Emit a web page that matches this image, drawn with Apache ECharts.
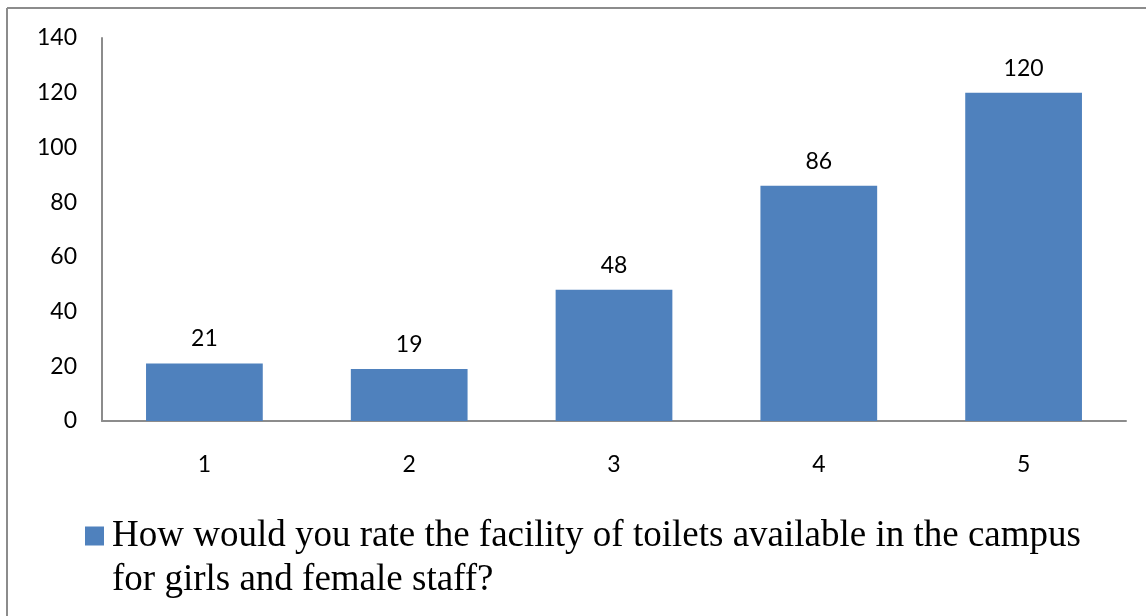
<!DOCTYPE html>
<html>
<head>
<meta charset="utf-8">
<script src="https://cdn.jsdelivr.net/npm/echarts@6/dist/echarts.min.js"></script>
<style>
  html, body { margin: 0; padding: 0; background: #fff; }
  #chart { width: 1146px; height: 616px; }
</style>
</head>
<body>
<div id="chart"></div>
<script>
// data
const categories = ['1', '2', '3', '4', '5'];
const values = [21, 19, 48, 86, 120];
const seriesName = 'How would you rate the facility of toilets available in the campus for girls and female staff?';
const legendLines = ['How would you rate the facility of toilets available in the campus', 'for girls and female staff?'];
const yTicks = { min: 0, max: 140, interval: 20 };

const chart = echarts.init(document.getElementById('chart'));

const labelFont = 'Lato, "Open Sans", sans-serif';

const option = {
  animation: false,
  backgroundColor: '#fff',
  // frame of the cropped chart area (left and top edges only)
  graphic: [
    { type: 'line', shape: { x1: 7, y1: 8, x2: 7, y2: 616 }, style: { stroke: '#8c8c8c', lineWidth: 2 } },
    { type: 'line', shape: { x1: 7, y1: 8, x2: 1146, y2: 8 }, style: { stroke: '#8c8c8c', lineWidth: 2 } },
  ],
  grid: {
    left: 102,
    right: 20,
    top: 38,
    bottom: 195,
  },
  legend: {
    left: 85,
    top: 470,
    padding: 0,
    itemWidth: 19,
    itemHeight: 19,
    icon: 'rect',
    // blank first line keeps the marker next to the first text line
    formatter: () => '\n' + legendLines.join('\n'),
    textStyle: {
      fontFamily: '"Liberation Serif", "DejaVu Serif", serif',
      fontSize: 37,
      lineHeight: 44,
      color: '#000',
      padding: [0, 0, 0, 3],
    },
    data: [seriesName],
  },
  xAxis: {
    type: 'category',
    data: categories,
    axisLine: { show: true, lineStyle: { color: '#8c8c8c', width: 2 } },
    axisTick: { show: false },
    axisLabel: {
      margin: 32,
      color: '#000',
      fontFamily: labelFont,
      fontSize: 23,
    },
  },
  yAxis: {
    type: 'value',
    min: yTicks.min,
    max: yTicks.max,
    interval: yTicks.interval,
    axisLine: { show: true, lineStyle: { color: '#8c8c8c', width: 2 } },
    axisTick: { show: false },
    splitLine: { show: false },
    axisLabel: {
      margin: 25,
      color: '#000',
      fontFamily: labelFont,
      fontSize: 23,
    },
  },
  series: [{
    name: seriesName,
    type: 'bar',
    data: values,
    barWidth: '57%',
    itemStyle: { color: '#4f81bd' },
    label: {
      show: true,
      position: 'top',
      distance: 13,
      color: '#000',
      fontFamily: labelFont,
      fontSize: 23,
    },
  }],
};

chart.setOption(option);
</script>
</body>
</html>
